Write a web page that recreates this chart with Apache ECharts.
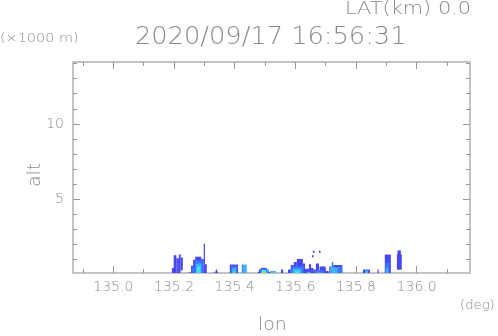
<!DOCTYPE html>
<html style="height: 100%">
<head>
    <meta charset="UTF-8">
    <title>alt-lon cross section</title>
    <script src="https://cdn.jsdelivr.net/npm/echarts/dist/echarts.min.js"></script>
    <style>
        #main {
            width: 498px;
            height: 336px;
        }
    </style>
</head>
<body style="margin: 0; background: #fff">
    <div id="main"></div>
    <script type="text/javascript">
        // axis ticks
        var lonTicks = [135.0, 135.2, 135.4, 135.6, 135.8, 136.0];
        var lonMinorTicks = [134.9, 135.1, 135.3, 135.5, 135.7, 135.9, 136.1];
        var altTicks = [5, 10];
        var altMinorTicks = [1, 2, 3, 4, 6, 7, 8, 9, 11, 12, 13, 14];

        // echo cells: [lon start, lon end, alt bottom, alt top, level]
        var cells = [
            [135.193, 135.200, 0, 0.45, 0],
            [135.199, 135.208, 0, 1.30, 0],
            [135.208, 135.216, 0, 1.10, 0],
            [135.216, 135.222, 0, 1.35, 0],
            [135.222, 135.229, 0.3, 1.15, 0],

            [135.246, 135.256, 0, 0.15, 0],
            [135.256, 135.263, 0, 0.60, 0],
            [135.263, 135.270, 0, 1.00, 0],
            [135.270, 135.290, 0, 1.20, 0],
            [135.290, 135.298, 0, 1.05, 0],
            [135.298, 135.302, 0, 2.05, 0],
            [135.302, 135.308, 0, 0.70, 0],
            [135.258, 135.268, 0, 0.50, 1],
            [135.268, 135.295, 0, 0.95, 1],
            [135.272, 135.290, 0, 0.75, 2],
            [135.276, 135.287, 0, 0.55, 3],
            [135.278, 135.284, 0, 0.25, 4],
            [135.328, 135.331, 0, 0.15, 0],

            [135.330, 135.358, 0, 0.08, 0],
            [135.335, 135.345, 0, 0.22, 0],
            [135.338, 135.342, 0, 0.35, 0],

            [135.384, 135.411, 0, 0.68, 0],
            [135.388, 135.408, 0, 0.60, 1],
            [135.392, 135.405, 0, 0.45, 2],
            [135.395, 135.402, 0, 0.25, 4],

            [135.424, 135.440, 0, 0.68, 2],
            [135.424, 135.427, 0, 0.68, 1],

            [135.477, 135.517, 0, 0.20, 0],
            [135.480, 135.512, 0, 0.35, 0],
            [135.486, 135.506, 0, 0.46, 0],
            [135.485, 135.510, 0, 0.30, 2],
            [135.490, 135.503, 0, 0.35, 3],
            [135.490, 135.500, 0, 0.20, 5],
            [135.517, 135.536, 0, 0.25, 2],
            [135.522, 135.532, 0, 0.15, 4],

            [135.553, 135.560, 0, 0.35, 0],

            [135.576, 135.585, 0, 0.35, 0],
            [135.585, 135.595, 0, 0.65, 0],
            [135.595, 135.605, 0, 0.85, 0],
            [135.605, 135.625, 0, 1.05, 0],
            [135.625, 135.632, 0, 0.75, 0],
            [135.632, 135.645, 0, 0.40, 0],
            [135.645, 135.652, 0, 0.70, 0],
            [135.652, 135.660, 0, 0.45, 0],
            [135.660, 135.668, 0, 0.35, 0],
            [135.668, 135.678, 0, 0.75, 0],
            [135.680, 135.700, 0, 0.55, 0],
            [135.700, 135.710, 0, 0.25, 0],
            [135.712, 135.720, 0, 0.55, 0],
            [135.720, 135.725, 0, 0.85, 1],
            [135.725, 135.755, 0, 0.65, 0],
            [135.585, 135.628, 0, 0.55, 1],
            [135.592, 135.620, 0, 0.40, 2],
            [135.598, 135.614, 0, 0.25, 3],
            [135.638, 135.650, 0, 0.20, 2],
            [135.665, 135.695, 0, 0.30, 1],
            [135.675, 135.685, 0, 0.15, 3],
            [135.715, 135.740, 0, 0.50, 2],
            [135.740, 135.755, 0, 0.55, 1],
            [135.655, 135.660, 1.15, 1.30, 0],
            [135.658, 135.663, 1.45, 1.60, 0],
            [135.678, 135.683, 1.45, 1.60, 0],

            [135.823, 135.846, 0, 0.35, 0],
            [135.830, 135.840, 0, 0.30, 2],
            [135.871, 135.875, 0, 0.35, 0],

            [135.895, 135.915, 0, 1.34, 0],
            [135.897, 135.910, 0, 0.80, 1],
            [135.899, 135.906, 0, 0.45, 2],

            [135.935, 135.951, 0.35, 1.35, 0],
            [135.937, 135.948, 0.35, 1.62, 0]
        ];

        var palette = ['#4646f5', '#3c78ff', '#3cb4ff', '#40e6f0', '#50e68c', '#b4e650'];

        var chartDom = document.getElementById('main');
        var myChart = echarts.init(chartDom);
        var option;

        var lonMin = 134.867, lonMax = 136.176;
        var altMin = 0.12, altMax = 14.1;
        var textColor = '#8a8a8a';
        var fontFamily = '"DejaVu Sans"';
        var lineStyle = { color: '#c4c4c4', width: 2 };
        var tickStyle = { color: '#9a9a9a', width: 1 };

        function xAx(pos, ticks, len, withLabel, withLine) {
            return {
                type: 'value', position: pos, min: lonMin, max: lonMax,
                axisLine: { show: withLine, lineStyle: lineStyle },
                axisTick: { show: true, inside: true, length: len, customValues: ticks, lineStyle: tickStyle },
                axisLabel: {
                    show: withLabel, customValues: ticks, color: textColor, fontSize: 14, margin: 7,
                    fontFamily: 'DejaVu Sans', fontWeight: 200,
                    formatter: function (v) { return v.toFixed(1); }
                },
                splitLine: { show: false }
            };
        }
        function yAx(pos, ticks, len, withLabel, withLine) {
            return {
                type: 'value', position: pos, min: altMin, max: altMax,
                axisLine: { show: withLine, lineStyle: lineStyle },
                axisTick: { show: true, inside: true, length: len, customValues: ticks, lineStyle: tickStyle },
                axisLabel: {
                    show: withLabel, customValues: ticks, color: textColor, fontSize: 14, margin: 9,
                    fontFamily: 'DejaVu Sans', fontWeight: 200
                },
                splitLine: { show: false }
            };
        }

        function label(txt, x, y, size, sx, rot) {
            return {
                type: 'text', x: x, y: y, scaleX: sx, rotation: rot || 0,
                style: { text: txt, fill: textColor, font: '200 ' + size + 'px ' + fontFamily }
            };
        }

        option = {
            animation: false,
            grid: { left: 73, top: 62, right: 28, bottom: 63 },
            xAxis: [
                xAx('bottom', lonTicks, 7, true, true),
                xAx('bottom', lonMinorTicks, 4, false, false),
                xAx('top', lonTicks, 7, false, true),
                xAx('top', lonMinorTicks, 4, false, false)
            ],
            yAxis: [
                yAx('left', altTicks, 7, true, true),
                yAx('left', altMinorTicks, 4, false, false),
                yAx('right', altTicks, 7, false, true),
                yAx('right', altMinorTicks, 4, false, false)
            ],
            series: [{
                type: 'custom',
                clip: true,
                data: cells,
                renderItem: function (params, api) {
                    var p0 = api.coord([api.value(0), api.value(2)]);
                    var p1 = api.coord([api.value(1), api.value(3)]);
                    return {
                        type: 'rect',
                        shape: { x: p0[0], y: p1[1], width: p1[0] - p0[0], height: p0[1] - p1[1] },
                        style: { fill: palette[api.value(4)] }
                    };
                }
            }],
            graphic: [
                label('LAT(km) 0.0', 345, 0, 18, 1.16),
                label('(\u00d71000 m)', 0, 33, 12, 1.2),
                label('2020/09/17 16:56:31', 135, 26, 24, 1.07),
                label('alt', 26, 187, 18, 1.05, Math.PI / 2),
                label('(deg)', 460, 300, 12, 1.1),
                label('lon', 258, 316, 18, 1.05)
            ]
        };

        myChart.setOption(option);
    </script>
</body>
</html>
